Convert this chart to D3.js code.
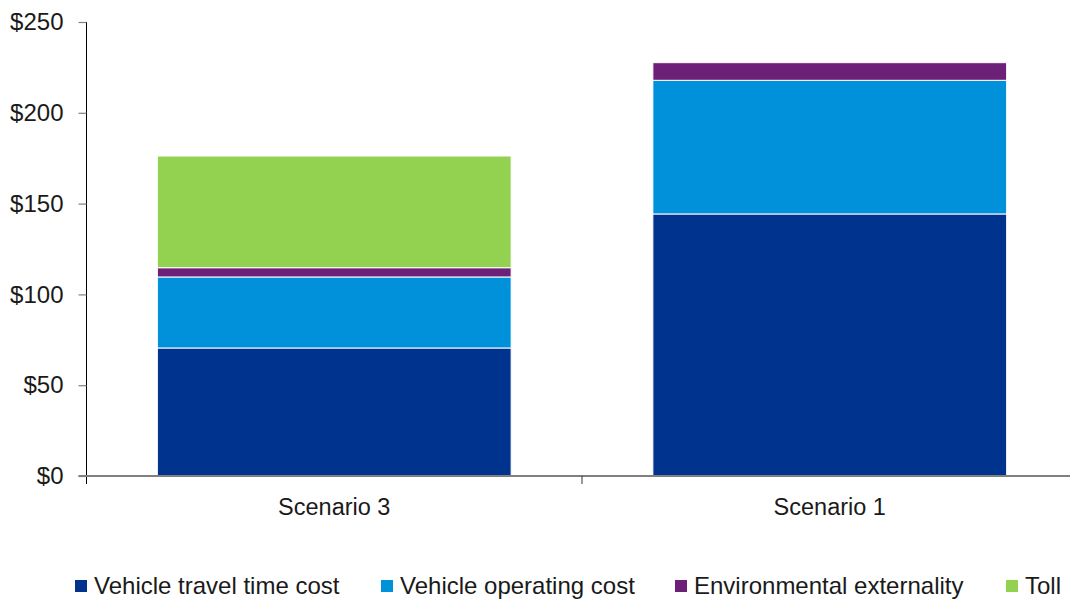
<!DOCTYPE html>
<html>
<head>
<meta charset="utf-8">
<script src="https://cdn.jsdelivr.net/npm/d3@7/dist/d3.min.js"></script>
<style>
  html, body { margin: 0; padding: 0; background: #fff; }
  svg { display: block; font-family: "Liberation Sans", Arial, sans-serif; }
</style>
</head>
<body>
<svg id="chart" width="1070" height="599"></svg>
<script>
// Cost components per scenario ($)
const scenarios = ["Scenario 3", "Scenario 1"];
const seriesNames = ["Vehicle travel time cost", "Vehicle operating cost", "Environmental externality", "Toll"];
const travelTime = [70.5, 144.3];
const operating = [39.1, 73.6];
const environmental = [5.1, 9.7];
const toll = [61.5, 0];
const yTicks = [0, 50, 100, 150, 200, 250];
const colors = ["#00338D", "#0091DA", "#6D2077", "#93D150"];

const svg = d3.select("#chart");
const margin = { left: 86.5, right: -7.5, top: 22, bottom: 123 };
const W = 1070, H = 599;
const textColor = "#1a1a1a";

const x = d3.scaleBand()
  .domain(scenarios)
  .range([margin.left, W - margin.right])
  .paddingInner(0.286)
  .paddingOuter(0.143);

const y = d3.scaleLinear()
  .domain([0, 250])
  .range([H - margin.bottom, margin.top]);

const rows = scenarios.map((s, i) => ({
  scenario: s,
  [seriesNames[0]]: travelTime[i],
  [seriesNames[1]]: operating[i],
  [seriesNames[2]]: environmental[i],
  [seriesNames[3]]: toll[i]
}));

const stacked = d3.stack().keys(seriesNames)(rows);

// Stacked bars, separated by thin white edges
svg.append("g")
  .selectAll("g")
  .data(stacked)
  .join("g")
  .attr("fill", (d, i) => colors[i])
  .selectAll("rect")
  .data(d => d.filter(p => p[1] - p[0] > 0))
  .join("rect")
  .attr("x", d => x(d.data.scenario))
  .attr("width", x.bandwidth())
  .attr("y", d => y(d[1]))
  .attr("height", d => y(d[0]) - y(d[1]))
  .attr("stroke", "#fff")
  .attr("stroke-width", 1);

// Y axis
const yAxis = svg.append("g")
  .attr("transform", `translate(${margin.left},0)`)
  .call(d3.axisLeft(y).tickValues(yTicks).tickFormat(d => "$" + d).tickSize(8).tickPadding(15));
yAxis.select(".domain").attr("stroke", "#000").attr("d", `M0,${y(250)}V${y(0) + 8}`);
yAxis.selectAll(".tick line").attr("stroke", "#808080").attr("stroke-width", 1.2);
yAxis.selectAll(".tick text")
  .attr("fill", textColor)
  .style("font-size", "24px")
  .style("font-family", "'Liberation Sans', Arial, sans-serif");

// X axis category labels
const xAxis = svg.append("g")
  .attr("transform", `translate(0,${y(0)})`)
  .call(d3.axisBottom(x).tickSize(0).tickPadding(22));
xAxis.select(".domain").remove();
xAxis.selectAll(".tick text")
  .attr("fill", textColor)
  .style("font-size", "23.5px")
  .style("font-family", "'Liberation Sans', Arial, sans-serif");

// Baseline
svg.append("line")
  .attr("x1", margin.left - 8).attr("x2", W)
  .attr("y1", y(0)).attr("y2", y(0))
  .attr("stroke", "#808080").attr("stroke-width", 2);

// Divider tick between the two categories
const mid = (x(scenarios[0]) + x.bandwidth() + x(scenarios[1])) / 2;
svg.append("line")
  .attr("x1", mid).attr("x2", mid)
  .attr("y1", y(0)).attr("y2", y(0) + 8)
  .attr("stroke", "#333").attr("stroke-width", 1);

// Legend
const legendX = [75, 381, 675, 1006];
const legend = svg.append("g").attr("transform", "translate(0,594)");
seriesNames.forEach((name, i) => {
  legend.append("rect")
    .attr("x", legendX[i]).attr("y", -14)
    .attr("width", 12).attr("height", 12)
    .attr("fill", colors[i]);
  legend.append("text")
    .attr("x", legendX[i] + 19).attr("y", 0)
    .attr("fill", textColor)
    .style("font-size", "24px")
    .text(name);
});
</script>
</body>
</html>
